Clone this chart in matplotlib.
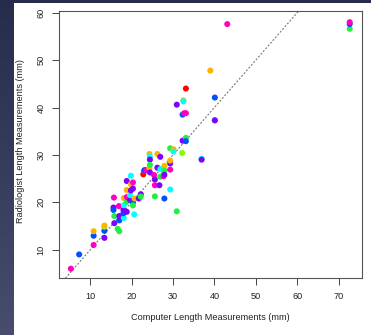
import numpy as np
import matplotlib
matplotlib.use("Agg")
import matplotlib.pyplot as plt
from matplotlib.patches import Rectangle

# ---- data ----
computer = [5.3, 7.3, 10.8, 10.8, 10.8, 13.4, 13.4, 13.4, 13.4, 15.7,
            15.6, 15.6, 15.8, 15.8, 16.6, 17.0, 17.0, 17.0, 16.9, 18.1,
            18.0, 18.0, 18.1, 18.1, 18.8, 18.8, 18.8, 18.8, 18.8, 19.6,
            19.6, 19.8, 19.8, 19.8, 20.3, 20.3, 20.3, 20.3, 20.6, 20.7,
            21.7, 21.7, 22.2, 22.2, 22.8, 23.0, 23.1, 23.6, 24.3, 24.3,
            24.4, 24.4, 24.4, 24.4, 25.4, 25.6, 25.6, 25.6, 26.2, 26.2,
            26.7, 26.9, 26.9, 26.9, 27.7, 27.7, 27.9, 27.9, 27.9, 27.9,
            29.3, 29.3, 29.3, 29.3, 29.3, 30.1, 30.1, 30.9, 30.9, 32.2,
            32.3, 32.3, 32.5, 32.5, 32.7, 33.1, 33.1, 33.1, 33.1, 36.9,
            36.9, 39.0, 40.1, 40.1, 40.1, 43.1, 72.7, 72.7, 72.7]
radiologist = [6.0, 9.0, 11.0, 12.95, 13.9, 12.5, 14.0, 14.85, 15.1, 21.0,
               18.9, 18.4, 17.1, 15.6, 14.4, 13.9, 16.2, 17.1, 19.2, 16.7,
               17.7, 18.4, 19.4, 20.9, 18.0, 20.1, 21.1, 22.6, 24.5, 20.5,
               21.5, 25.6, 23.8, 22.5, 20.0, 22.9, 24.2, 19.35, 17.45, 20.8,
               21.0, 20.8, 21.7, 21.2, 25.9, 26.6, 26.8, 26.8, 27.2, 30.2,
               29.6, 29.0, 27.9, 26.3, 25.75, 24.8, 23.6, 21.25, 30.2, 27.3,
               23.6, 29.6, 27.0, 25.4, 25.5, 25.9, 20.8, 27.7, 26.7, 25.8,
               22.7, 26.9, 28.2, 28.8, 31.4, 31.2, 30.7, 18.1, 40.6, 30.4,
               33.0, 38.5, 41.5, 41.3, 38.8, 38.8, 44.0, 33.6, 32.9, 29.2,
               29.0, 47.8, 42.1, 37.3, 37.3, 57.6, 56.6, 57.6, 58.0]
group = ["magenta", "blue", "magenta", "blue", "orange", "purple", "blue", "lime", "orange", "magenta",
         "purple", "blue", "green", "purple", "green", "green", "blue", "purple", "magenta", "cyan",
         "blue", "purple", "cyan", "orange", "purple", "green", "magenta", "orange", "purple", "purple",
         "cyan", "cyan", "orange", "purple", "blue", "purple", "magenta", "green", "cyan", "orange",
         "green", "purple", "purple", "green", "red", "magenta", "blue", "magenta", "orange", "orange",
         "cyan", "purple", "green", "purple", "magenta", "purple", "magenta", "green", "orange", "purple",
         "purple", "purple", "cyan", "green", "magenta", "green", "blue", "orange", "green", "purple",
         "cyan", "magenta", "purple", "orange", "green", "orange", "cyan", "green", "purple", "lime",
         "purple", "blue", "orange", "cyan", "magenta", "magenta", "red", "green", "blue", "cyan",
         "purple", "orange", "blue", "green", "purple", "magenta", "green", "blue", "magenta"]
xticks = [10, 20, 30, 40, 50, 60, 70]
yticks = [10, 20, 30, 40, 50, 60]
xlabel = "Computer Length Measurements (mm)"
ylabel = "Radiologist Length Measurements (mm)"

palette = {"red": "#FF0000", "orange": "#FFB300", "lime": "#80FF00",
           "green": "#22F040", "cyan": "#00FFFF", "blue": "#0050FF",
           "purple": "#8000FF", "magenta": "#FF00BF"}

W, H = 371, 335
fig = plt.figure(figsize=(W / 100, H / 100), dpi=100)

# background gradient (slide)
bg = fig.add_axes([0, 0, 1, 1])
grad = np.linspace(0, 1, 256).reshape(-1, 1)
top = np.array([0x26, 0x2d, 0x4c]) / 255
bot = np.array([0x48, 0x4c, 0x6d]) / 255
img = top[None, None, :] * (1 - grad[:, :, None]) + bot[None, None, :] * grad[:, :, None]
bg.imshow(img, aspect="auto", extent=[0, 1, 0, 1])
bg.add_patch(Rectangle((14 / W, 0), 1, 1 - 3.3 / H, facecolor="white", edgecolor="none"))
bg.set_xlim(0, 1)
bg.set_ylim(0, 1)
bg.axis("off")

ax = fig.add_axes([59.3 / W, 1 - 278.3 / H, (361.7 - 59.3) / W, (278.3 - 11) / H])
ax.set_facecolor("none")
cols = [palette[g] for g in group]
ax.scatter(computer, radiologist, s=19, c=cols, edgecolors="none", zorder=3)
ax.axline((0, 0), (1, 1), color="#777777", lw=0.8, dashes=(1.8, 1.5), zorder=2)

ax.set_xlim(2.5, 75.6)
ax.set_ylim(3.97, 60.36)
ax.set_xticks(xticks)
ax.set_yticks(yticks)
fs = 6.6
fam = ["Liberation Sans", "DejaVu Sans"]
ax.set_xticklabels([str(t) for t in xticks], fontsize=fs, family=fam, color="#222222")
ax.set_yticklabels([str(t) for t in yticks], fontsize=fs, family=fam, color="#222222",
                   rotation=90, va="center")
ax.tick_params(axis="both", direction="out", length=4.8, width=0.7, color="#444444", pad=5)
for sp in ax.spines.values():
    sp.set_color("#555555")
    sp.set_linewidth(0.8)

fig.text(210.5 / W, 1 - 318 / H, xlabel, ha="center", va="center", fontsize=fs, family=fam, color="#222222")
fig.text(20.7 / W, 1 - 141 / H, ylabel, ha="center", va="center", rotation=90, fontsize=fs,
         family=fam, color="#222222")

fig.savefig("out.png", dpi=100)
